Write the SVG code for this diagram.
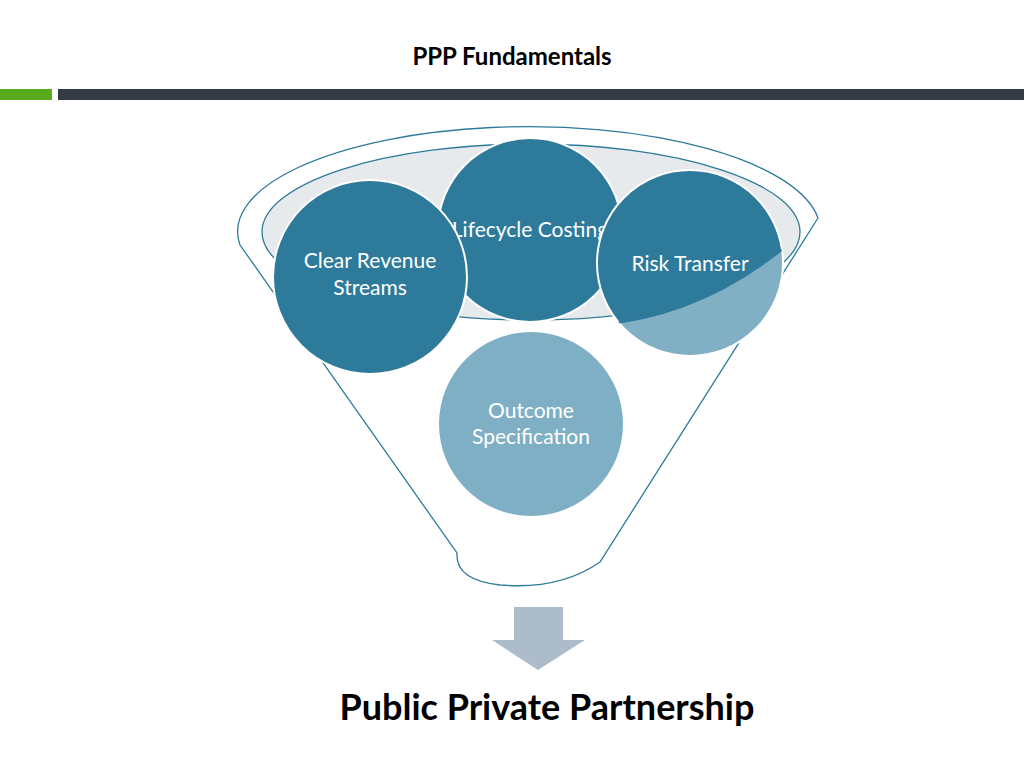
<svg xmlns="http://www.w3.org/2000/svg" width="1024" height="768" viewBox="0 0 1024 768">
<style>
.c{fill:#2e7a9b;stroke:#fff;stroke-width:2}
.t{font-family:Lato,"Open Sans",sans-serif;fill:#fff;font-size:21px;text-anchor:middle}
.l{fill:none;stroke:#2e7a9b;stroke-width:1.3}
</style>
<defs><clipPath id="rc"><circle cx="690" cy="263" r="93"/></clipPath></defs>
<rect width="1024" height="768" fill="#fff"/>
<text x="512" y="65" font-family="Lato,sans-serif" font-weight="bold" font-size="24" text-anchor="middle" fill="#000">PPP Fundamentals</text>
<rect x="0" y="89" width="52" height="11" fill="#5aaa1e"/>
<rect x="58" y="89" width="966" height="11" fill="#353b45"/>
<g id="funnel">
<path class="l" fill="#fff" d="M240,245 A289,104 0 0 1 818,218 L600,562 Q560,590 500,585 Q455,580 457,553 Z"/>
<ellipse cx="531" cy="232" rx="269" ry="88" fill="#e6eaed" stroke="#2e7a9b" stroke-width="1.3"/>
<ellipse cx="531" cy="240" rx="250" ry="70" fill="#fff" opacity="0"/>
</g>
<g id="lifecycle"><circle class="c" cx="530" cy="230" r="92"/><text class="t" x="530" y="237">Lifecycle Costing</text></g>
<g id="risk"><circle class="c" cx="690" cy="263" r="93"/><text class="t" x="690" y="271">Risk Transfer</text></g>
<path clip-path="url(#rc)" d="M600,325 Q720,315 818,218 L818,400 L600,400 Z" fill="#fff" opacity="0.4"/>
<path clip-path="url(#rc)" class="l" d="M600,325 Q720,315 818,218"/>
<g id="clear"><circle class="c" cx="370" cy="277" r="97"/><text class="t" x="370" y="268">Clear Revenue</text><text class="t" x="370" y="295">Streams</text></g>
<g id="outcome"><circle cx="531" cy="424" r="92" fill="#7fafc4"/><text class="t" x="531" y="418">Outcome</text><text class="t" x="531" y="444">Specification</text></g>
<g id="arrow"><path d="M514,607 H563 V640 H585 L538,670 L492,640 H514 Z" fill="#adbccb"/></g>
<text x="547" y="720" font-family="Lato,sans-serif" font-weight="bold" font-size="36" text-anchor="middle" fill="#000">Public Private Partnership</text>
</svg>
